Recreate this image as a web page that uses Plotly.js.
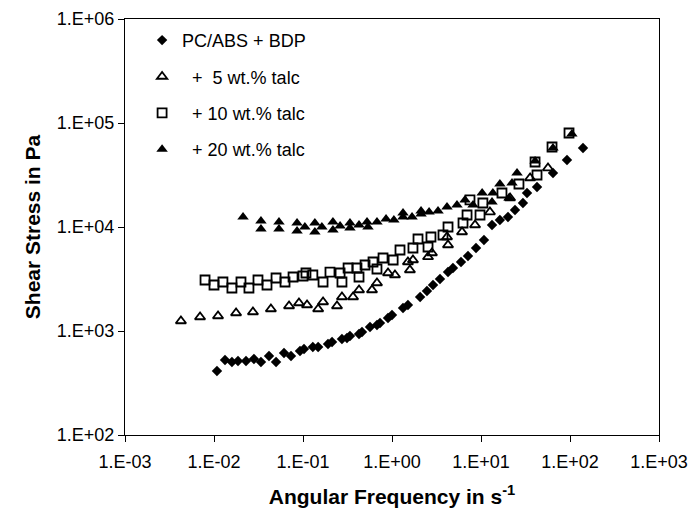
<!DOCTYPE html>
<html><head><meta charset="utf-8">
<script src="https://cdn.plot.ly/plotly-3.0.1.min.js"></script>
<style>html,body{margin:0;padding:0;background:#fff}</style>
</head><body><div id="chart" style="width:693px;height:510px"></div>
<script>
// Angular frequency (1/s) and shear stress (Pa)
var baseX = [0.0108,0.0133,0.0159,0.0186,0.0229,0.0281,0.0337,0.0415,0.0498,0.0612,0.0733,0.0925,0.1026,0.129,0.148,0.191,0.212,0.274,0.312,0.337,0.426,0.460,0.566,0.678,0.733,0.902,1.00,1.33,1.51,2.07,2.47,2.89,3.46,4.26,4.84,5.96,7.14,8.79,10.8,13.3,16.3,20.1,24.1,29.6,32.9,42.6,64.4,92.5,140];
var baseY = [412,526,503,515,515,538,503,575,503,614,575,642,671,702,702,750,784,838,857,895,936,978,1092,1142,1194,1334,1425,1664,1778,2123,2425,2769,3162,3690,4035,4607,5260,6280,7500,10450,11680,12480,14560,17010,21230,24260,33050,44080,57500];

var talc5X = [0.00425,0.00697,0.0111,0.0177,0.0274,0.0436,0.0697,0.0901,0.111,0.148,0.168,0.241,0.274,0.365,0.426,0.596,0.678,0.902,1.08,1.51,1.59,1.72,2.54,2.81,4.26,4.15,6.12,8.57,12.6,21.2,35.6,56.6];
var talc5Y = [1248,1363,1394,1489,1523,1628,1739,1859,1778,1628,1901,1739,2123,2123,2479,2479,2895,3610,3454,4607,3860,4817,5150,5623,6710,8010,8950,10450,13930,19000,29580,36900];

var talc10X = [0.00793,0.0100,0.0126,0.0159,0.0201,0.0247,0.0312,0.0394,0.0498,0.0628,0.0773,0.100,0.108,0.129,0.168,0.201,0.261,0.274,0.321,0.404,0.426,0.498,0.612,0.678,0.793,1.03,1.23,1.72,1.96,2.54,2.74,3.74,4.26,6.28,6.97,7.52,9.75,10.5,17.2,26.7,40.5,42.6,62.8,97.5];
var talc10Y = [3092,2769,2958,2590,2958,2590,3092,2769,3234,2958,3305,3380,3610,3454,2958,3690,3610,2958,4035,4035,3305,4310,4607,3945,5035,4817,6010,6280,7670,6425,8010,8380,10000,10920,13040,18200,13040,17010,21230,25900,42170,31620,58750,80100];

var talc20X = [0.0212,0.0337,0.0337,0.0537,0.0537,0.0857,0.0857,0.105,0.136,0.136,0.163,0.217,0.217,0.261,0.337,0.337,0.426,0.524,0.537,0.678,0.857,1.05,1.33,1.33,1.68,2.12,2.12,2.61,3.29,4.15,5.37,6.61,8.13,10.3,13.3,13.6,16.3,20.6,22.3,25.4,40.5,64.4,105];
var talc20Y = [12480,11420,9570,11170,9570,10920,9150,10000,10920,8950,10000,11170,9360,10230,10920,9780,10450,11170,10000,11170,11940,11680,12480,13640,12480,13340,14260,13930,14260,15570,16280,18200,16280,21230,17390,21230,25900,19000,26490,33050,43130,57500,78400];

var seriesNames = ["PC/ABS + BDP", "\u00a0\u00a0+\u00a0\u00a05 wt.% talc", "\u00a0\u00a0+ 10 wt.% talc", "\u00a0\u00a0+ 20 wt.% talc"];

var xTickVals = [0.001,0.01,0.1,1,10,100,1000];
var xTickText = ["1.E-03","1.E-02","1.E-01","1.E+00","1.E+01","1.E+02","1.E+03"];
var yTickVals = [100,1000,10000,100000,1000000];
var yTickText = ["1.E+02","1.E+03","1.E+04","1.E+05","1.E+06"];

var FONT = "Liberation Sans, Arial, sans-serif";

var traces = [
  {x: baseX, y: baseY, name: seriesNames[0], legendgroup: "a", type: "scatter", mode: "markers",
   marker: {symbol: "diamond", size: 8, color: "#000"}},
  {x: talc5X, y: talc5Y, name: seriesNames[1], legendgroup: "b", type: "scatter", mode: "markers",
   marker: {symbol: "triangle-up-open", size: 9, color: "#000", line: {width: 1.8, color: "#000"}}},
  {x: talc10X, y: talc10Y, name: seriesNames[2], legendgroup: "c", type: "scatter", mode: "markers",
   marker: {symbol: "square-open", size: 9, color: "#000", line: {width: 1.8, color: "#222"}}},
  {x: talc20X, y: talc20Y, name: seriesNames[3], legendgroup: "d", type: "scatter", mode: "markers",
   marker: {symbol: "triangle-up", size: 10, color: "#000"}}
];

var layout = {
  width: 693, height: 510,
  margin: {l: 125, r: 34, t: 19, b: 75, pad: 0},
  paper_bgcolor: "#fff", plot_bgcolor: "#fff",
  font: {family: FONT, color: "#000", size: 18},
  showlegend: true,
  legend: {x: 0.032, y: 0.993, xanchor: "left", yanchor: "top",
           bgcolor: "rgba(0,0,0,0)", borderwidth: 0,
           font: {family: FONT, size: 18, color: "#000"},
           traceorder: "grouped", tracegroupgap: 10},
  xaxis: {type: "log", range: [-3, 3], tickvals: xTickVals, ticktext: xTickText,
          showgrid: false, zeroline: false, showline: true, linecolor: "#000", linewidth: 1,
          mirror: true, ticks: "outside", ticklen: 6, tickcolor: "#000", ticklabelstandoff: 4,
          tickfont: {family: FONT, size: 18, color: "#000"},
          title: {text: "<b>Angular Frequency in s<sup>-1</sup></b>", font: {family: FONT, size: 21, color: "#000"}, standoff: 18},
          automargin: false},
  yaxis: {type: "log", range: [2, 6], tickvals: yTickVals, ticktext: yTickText,
          showgrid: false, zeroline: false, showline: true, linecolor: "#000", linewidth: 1,
          mirror: true, ticks: "outside", ticklen: 6, tickcolor: "#000",
          tickfont: {family: FONT, size: 18, color: "#000"},
          title: {text: "<b>Shear Stress in Pa</b>", font: {family: FONT, size: 21, color: "#000"}, standoff: 10},
          automargin: false}
};

Plotly.newPlot("chart", traces, layout, {displayModeBar: false, staticPlot: true});
</script></body></html>
